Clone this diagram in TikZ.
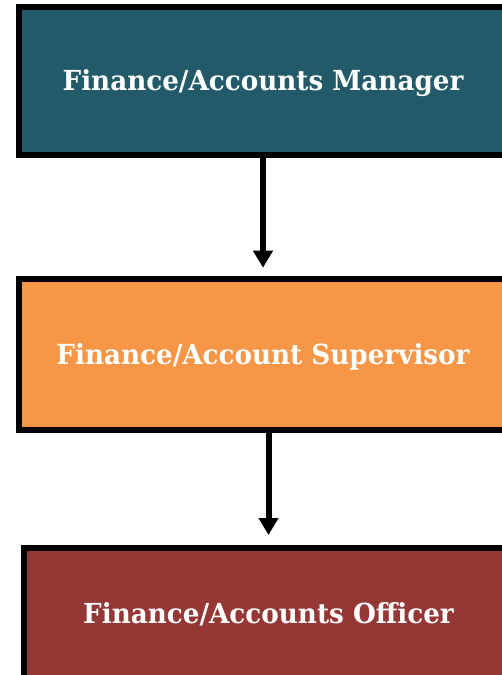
\documentclass[tikz,border=0pt]{standalone}
\usepackage{fontspec}
\setmainfont{DejaVu Serif}[FakeStretch=0.95]
\usetikzlibrary{arrows.meta}
\definecolor{mgrteal}{HTML}{225A69}
\definecolor{suporange}{HTML}{F79646}
\definecolor{offred}{HTML}{953735}
\tikzset{
  rolebox/.style={draw=black, line width=6pt, inner sep=0pt,
    text=white, font=\bfseries\fontsize{27.6}{30}\selectfont,
    text height=20pt, text depth=0pt},
  linkarrow/.style={line width=6pt, -{Triangle[width=19pt,length=17pt]}}
}
\begin{document}
\begin{tikzpicture}[x=1pt, y=-1pt]
  \useasboundingbox (0,0) rectangle (502,675);
  \clip (0,0) rectangle (502,675);
  \node[rolebox, fill=mgrteal, minimum width=488pt, minimum height=148pt]
    (mgr) at (263,80.5) {Finance/Accounts Manager};
  \node[rolebox, fill=suporange, minimum width=488pt, minimum height=151pt]
    (sup) at (263,354.5) {Finance/Account Supervisor};
  \node[rolebox, fill=offred, minimum width=489pt, minimum height=130pt]
    (off) at (268.5,613) {Finance/Accounts Officer};
  \draw[linkarrow, shorten >=8.3pt] (mgr.south) -- (sup.north);
  \draw[linkarrow, shorten >=10pt] (off.north |- sup.south) -- (off.north);
\end{tikzpicture}
\end{document}
